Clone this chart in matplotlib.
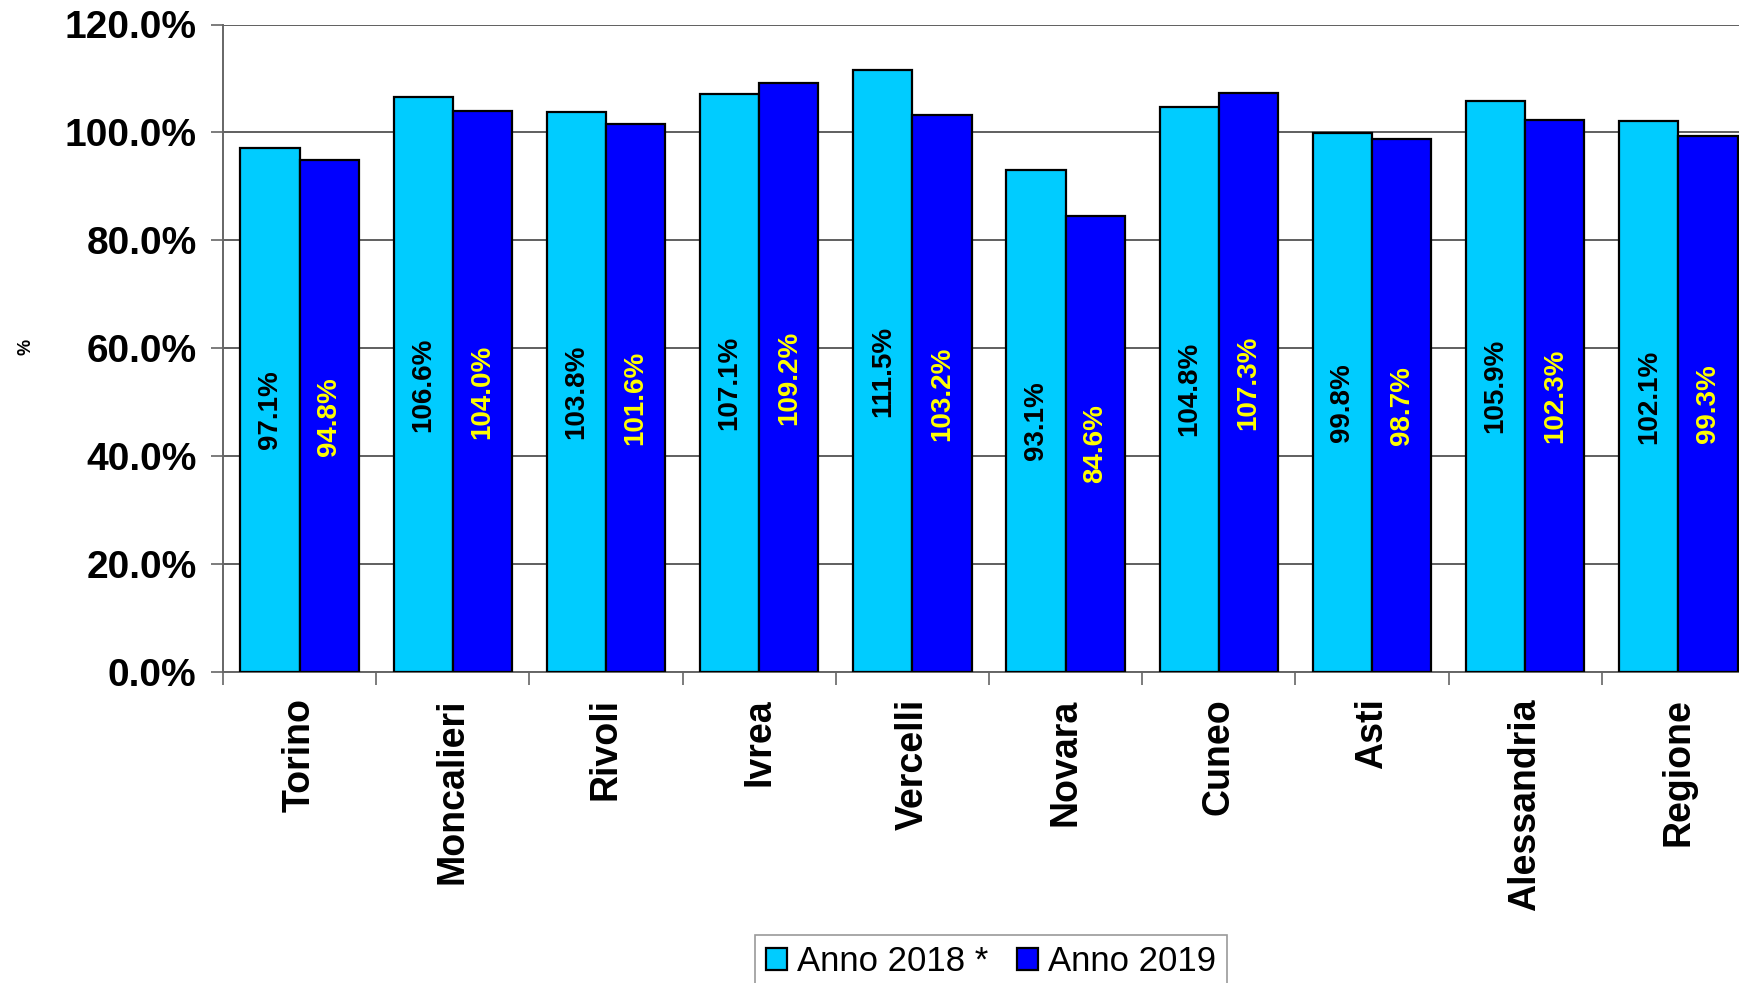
import numpy as np
import matplotlib
matplotlib.use("Agg")
import matplotlib.pyplot as plt
from matplotlib.ticker import PercentFormatter

categories = ["Torino", "Moncalieri", "Rivoli", "Ivrea", "Vercelli",
              "Novara", "Cuneo", "Asti", "Alessandria", "Regione"]
anno_2018 = [97.1, 106.6, 103.8, 107.1, 111.5, 93.1, 104.8, 99.8, 105.9, 102.1]
anno_2019 = [94.8, 104.0, 101.6, 109.2, 103.2, 84.6, 107.3, 98.7, 102.3, 99.3]
series_names = ["Anno 2018 *", "Anno 2019"]
y_ticks = [0, 20, 40, 60, 80, 100, 120]

plt.rcParams['font.family'] = ['Liberation Sans', 'DejaVu Sans']

W, H = 1740, 983
fig = plt.figure(figsize=(W / 100, H / 100), dpi=100)
ax = fig.add_axes([223 / W, 1 - 672 / H, 1532 / W, (672 - 24.5) / H])

x = np.arange(len(categories))
bw = 0.387
b1 = ax.bar(x - bw / 2, anno_2018, bw, color="#00CCFF", edgecolor="black",
            linewidth=1.6, zorder=3, label=series_names[0])
b2 = ax.bar(x + bw / 2, anno_2019, bw, color="#0000FF", edgecolor="black",
            linewidth=1.6, zorder=3, label=series_names[1])

for xi, v in zip(x, anno_2018):
    ax.text(xi - bw / 2, v / 2, f"{v:.1f}%", rotation=90, ha="center", va="center",
            fontsize=20, fontweight="bold", color="black", zorder=4)
for xi, v in zip(x, anno_2019):
    ax.text(xi + bw / 2, v / 2, f"{v:.1f}%", rotation=90, ha="center", va="center",
            fontsize=20, fontweight="bold", color="#FFFF00", zorder=4)

ax.set_xlim(-0.5, len(categories) - 0.5)
ax.set_ylim(0, 120)
ax.set_yticks(y_ticks)
ax.yaxis.set_major_formatter(PercentFormatter(decimals=1))
ax.grid(axis="y", color="#444444", linewidth=1.2, zorder=0)

# separators between groups as major ticks, names as minor ticks
ax.set_xticks(np.arange(-0.5, len(categories), 1.0))
ax.set_xticklabels([])
ax.set_xticks(x, minor=True)
ax.set_xticklabels(categories, minor=True, rotation=90, fontsize=27,
                   fontweight="bold", va="top")
ax.tick_params(axis="x", which="major", length=9, width=1.2, color="#666666", direction="out")
ax.tick_params(axis="x", which="minor", length=0, pad=19)
ax.tick_params(axis="y", length=9, width=1.2, color="#666666", direction="out", pad=10)
for lbl in ax.get_yticklabels():
    lbl.set_fontsize(28)
    lbl.set_fontweight("bold")

for s in ["top", "right"]:
    ax.spines[s].set_visible(False)
ax.spines["left"].set_color("#666666")
ax.spines["left"].set_linewidth(1.4)
ax.spines["bottom"].set_color("#666666")
ax.spines["bottom"].set_linewidth(1.4)

fig.text(26 / W, 1 - 347 / H, "%", rotation=90, ha="center", va="center",
         fontsize=13, fontweight="bold")

leg = fig.legend(handles=[b1, b2], loc="upper center", ncol=2,
                 bbox_to_anchor=(991 / W, 1 - 935 / H), fontsize=25,
                 frameon=True, fancybox=False, edgecolor="#808080",
                 handlelength=0.62, handleheight=0.62, handletextpad=0.3,
                 columnspacing=0.8, borderpad=0.3, borderaxespad=0)
leg.get_frame().set_linewidth(1.2)

fig.savefig("out.png", dpi=100)
